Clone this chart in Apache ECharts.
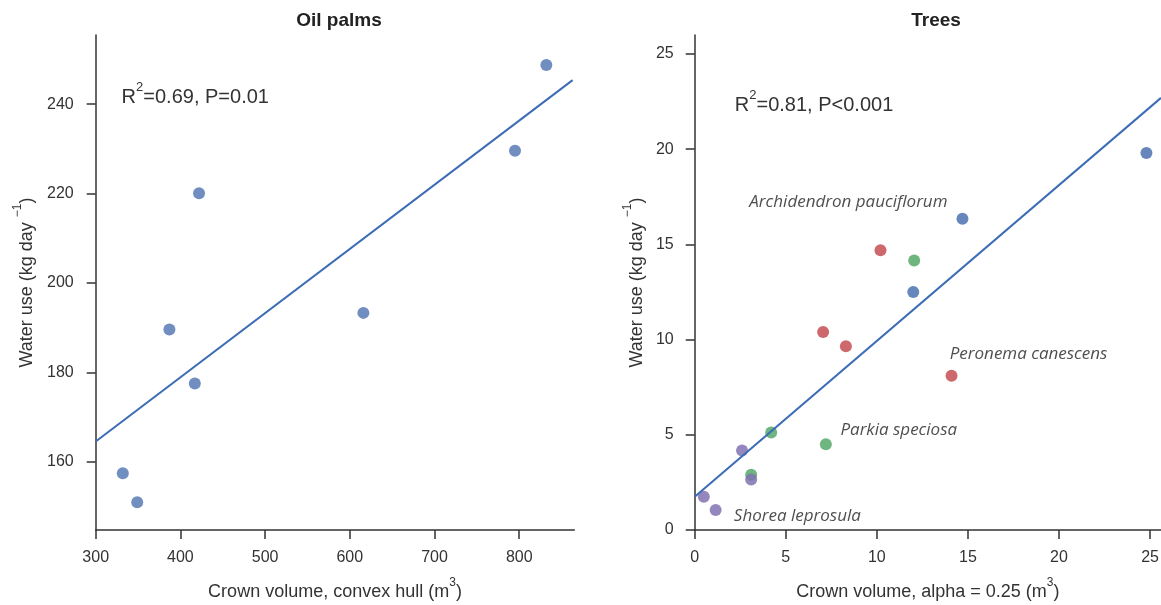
<!DOCTYPE html>
<html>
<head>
<meta charset="utf-8">
<title>Water use vs crown volume</title>
<script src="https://cdn.jsdelivr.net/npm/echarts@6/dist/echarts.min.js"></script>
<style>
  html, body { margin: 0; padding: 0; background: #fff; }
  #chart { width: 1161px; height: 605px; }
</style>
</head>
<body>
<div id="chart"></div>
<script>
// oil palms panel
var palmX = [332, 349, 387, 417, 422, 616, 795, 832];
var palmY = [157.4, 150.9, 189.6, 177.5, 220.1, 193.3, 229.6, 248.8];
var palmFitX = [300, 863];
var palmFitY = [164.5, 245.4];
var palmXTicks = [300, 400, 500, 600, 700, 800];
var palmYTicks = [160, 180, 200, 220, 240];

// trees panel, one pair of arrays per species
var speciesNames = ['Archidendron pauciflorum', 'Peronema canescens', 'Parkia speciosa', 'Shorea leprosula'];
var archX = [12.0, 14.7, 24.8];
var archY = [12.5, 16.35, 19.8];
var peroX = [7.05, 8.3, 10.2, 14.1];
var peroY = [10.4, 9.65, 14.7, 8.1];
var parkX = [3.1, 4.2, 7.2, 12.05];
var parkY = [2.9, 5.12, 4.5, 14.15];
var shorX = [0.5, 1.15, 2.6, 3.1];
var shorY = [1.75, 1.05, 4.18, 2.65];
var treeFitX = [0, 25.6];
var treeFitY = [1.75, 22.7];
var treeXTicks = [0, 5, 10, 15, 20, 25];
var treeYTicks = [0, 5, 10, 15, 20, 25];
// where the species names sit, in data units
var nameAtX = [3.0, 14.0, 8.0, 2.15];
var nameAtY = [17.2, 9.25, 5.25, 0.75];

var FONT = 'Liberation Sans';
var INK = '#333';

function pts (xs, ys) {
    return xs.map(function (x, i) { return [x, ys[i]]; });
}

function axis (opts, ticks, labelMargin) {
    var a = {
        type: 'value',
        axisLine: { show: true, onZero: false, lineStyle: { color: INK, width: 1.5 } },
        axisTick: { show: true, length: 9, customValues: ticks, lineStyle: { color: INK, width: 1.5 } },
        axisLabel: { customValues: ticks, margin: labelMargin, color: INK, fontSize: 16, fontFamily: FONT },
        splitLine: { show: false },
        nameLocation: 'middle',
        nameTextStyle: {
            color: INK, fontSize: 18, fontFamily: FONT, lineHeight: 30,
            rich: { sup: { fontSize: 12, fontFamily: FONT, color: INK, lineHeight: 12, verticalAlign: 'top' } }
        }
    };
    return Object.assign(a, opts);
}

function r2Text (x, y, txt) {
    return {
        type: 'text', x: x, y: y,
        style: {
            text: txt,
            fontSize: 20, fontFamily: FONT, fill: INK,
            lineHeight: 34, verticalAlign: 'middle',
            rich: { sup: { fontSize: 13, fontFamily: FONT, fill: INK, lineHeight: 13, verticalAlign: 'top' } }
        }
    };
}

var chart = echarts.init(document.getElementById('chart'));

var option = {
    animation: false,
    backgroundColor: '#fff',
    title: [
        { text: 'Oil palms', left: 334, top: 6, textAlign: 'center',
          textStyle: { fontSize: 19, fontWeight: 'bold', fontFamily: FONT, color: '#222' } },
        { text: 'Trees', left: 931, top: 6, textAlign: 'center',
          textStyle: { fontSize: 19, fontWeight: 'bold', fontFamily: FONT, color: '#222' } }
    ],
    grid: [
        { left: 95.7, top: 35, width: 478.6, height: 495, outerBoundsMode: 'none' },
        { left: 694.7, top: 35, width: 466.3, height: 495, outerBoundsMode: 'none' }
    ],
    xAxis: [
        axis({ gridIndex: 0, min: 300, max: 865, name: 'Crown volume, convex hull (m{sup|3})', nameGap: 47 }, palmXTicks, 20),
        axis({ gridIndex: 1, min: 0, max: 25.6, name: 'Crown volume, alpha = 0.25 (m{sup|3})', nameGap: 47 }, treeXTicks, 20)
    ],
    yAxis: [
        axis({ gridIndex: 0, min: 144.7, max: 255.5, name: 'Water use (kg day {sup|\u22121})', nameGap: 54 }, palmYTicks, 22),
        axis({ gridIndex: 1, min: 0, max: 26, name: 'Water use (kg day {sup|\u22121})', nameGap: 43 }, treeYTicks, 21)
    ],
    series: [
        { type: 'line', xAxisIndex: 0, yAxisIndex: 0, data: pts(palmFitX, palmFitY), symbol: 'none', silent: true,
          lineStyle: { color: '#3b6cb5', width: 2 } },
        { type: 'scatter', xAxisIndex: 0, yAxisIndex: 0, data: pts(palmX, palmY), symbolSize: 12,
          itemStyle: { color: '#4C72B0' } },
        { type: 'line', xAxisIndex: 1, yAxisIndex: 1, data: pts(treeFitX, treeFitY), symbol: 'none', silent: true,
          lineStyle: { color: '#3b6cb5', width: 2 } },
        { type: 'scatter', name: speciesNames[0], xAxisIndex: 1, yAxisIndex: 1, data: pts(archX, archY), symbolSize: 12,
          itemStyle: { color: '#4C72B0', opacity: 0.85 } },
        { type: 'scatter', name: speciesNames[1], xAxisIndex: 1, yAxisIndex: 1, data: pts(peroX, peroY), symbolSize: 12,
          itemStyle: { color: '#C44E52', opacity: 0.85 } },
        { type: 'scatter', name: speciesNames[2], xAxisIndex: 1, yAxisIndex: 1, data: pts(parkX, parkY), symbolSize: 12,
          itemStyle: { color: '#55A868', opacity: 0.85 } },
        { type: 'scatter', name: speciesNames[3], xAxisIndex: 1, yAxisIndex: 1, data: pts(shorX, shorY), symbolSize: 12,
          itemStyle: { color: '#8172B2', opacity: 0.85 } },
        // species names
        { type: 'scatter', xAxisIndex: 1, yAxisIndex: 1, symbolSize: 0, silent: true,
          data: nameAtX.map(function (x, i) { return [x, nameAtY[i], speciesNames[i]]; }),
          label: {
              show: true, position: 'right', distance: 0,
              formatter: function (p) { return p.data[2]; },
              fontFamily: 'Open Sans', fontStyle: 'italic', fontSize: 17, color: '#222'
          } }
    ],
    graphic: [
        r2Text(121.6, 97.5, 'R{sup|2}=0.69, P=0.01'),
        r2Text(734.8, 105.8, 'R{sup|2}=0.81, P<0.001')
    ]
};

chart.setOption(option);
</script>
</body>
</html>
